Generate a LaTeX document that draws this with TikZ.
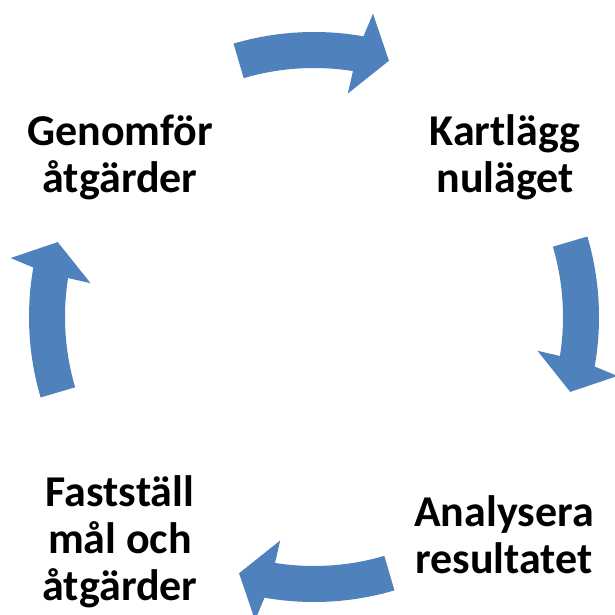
\documentclass[tikz,border=0pt]{standalone}
\usepackage{fontspec}
\setmainfont{Carlito}
\usepackage{tikz}
\usetikzlibrary{
    calc,
    positioning
}
\definecolor{cycleblue}{RGB}{79,129,189}

\begin{document}
\begin{tikzpicture}[x=1pt, y=1pt,
    steptext/.style={align=center, anchor=base, inner sep=0pt,
        font=\fontsize{44}{47}\selectfont\bfseries},
    cyclearrow/.style={fill=cycleblue, draw=none}]
                            \useasboundingbox (0,0) rectangle (615,614);
                            \node[steptext] (genomfor) at (120,421) {Genomför\\åtgärder};
                            \node[steptext] (kartlagg) at (505,421) {Kartlägg\\nuläget};
                            \node[steptext] (analysera) at (504,41) {Analysera\\resultatet};
                            \node[steptext] (faststall) at (120,14) {Fastställ\\mål och\\åtgärder};
                            \begin{scope}[shift={(314,297)}]
                                \foreach \a in {90,0,-90,-180} {
                                    \pgfmathsetmacro{\tail}{\a+16.4}
                                    \pgfmathsetmacro{\tip}{\a-16.3}
                                    \pgfmathsetmacro{\outend}{\tip+6.3}
                                    \pgfmathsetmacro{\outbarb}{\tip+5.3}
                                    \pgfmathsetmacro{\inend}{\tip+7.3}
                                    \pgfmathsetmacro{\inbarb}{\tip+7.7}
                                    \fill[cyclearrow] (\tail:285)
                                        arc[start angle=\tail, end angle=\outend, radius=285]
                                        -- (\outbarb:309) -- (\tip:267) -- (\inbarb:226)
                                        -- (\inend:249)
                                        arc[start angle=\inend, end angle=\tail, radius=249]
                                        -- cycle;
                                }
                            \end{scope}
                        \end{tikzpicture}
\end{document}
